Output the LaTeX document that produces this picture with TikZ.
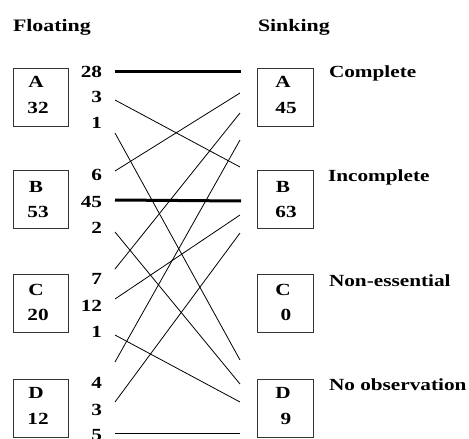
\documentclass[tikz,border=0pt]{standalone}
\usepackage{fontspec}
\setmainfont[FakeStretch=1.25]{Liberation Serif}
\begin{document}
\begin{tikzpicture}[x=1pt,y=-1pt,
  every node/.style={inner sep=0pt,outer sep=0pt,font=\fontsize{17}{20}\selectfont\bfseries},
  head/.style={anchor=base west,font=\fontsize{17.5}{21}\selectfont\bfseries},
  lbl/.style={anchor=base west},
  num/.style={anchor=base east},
  inb/.style={anchor=base},
  box/.style={draw=black!80,line width=0.9pt,minimum height=58pt},
  lbox/.style={box,minimum width=55pt},
  rbox/.style={box,minimum width=56pt},
  thin/.style={line width=0.8pt},
  thick/.style={line width=3pt}]
\useasboundingbox (0,0) rectangle (469,439);
% headings
\node[head] (fl) at (13,31) {Floating};
\node[head] (sk) at (258,31) {Sinking};
% left boxes
\node[lbox] (LA) at (40.5,97) {};
\node[lbox] (LB) at (40.5,199) {};
\node[lbox] (LC) at (40.5,303) {};
\node[lbox] (LD) at (40.5,408.5) {};
\node[inb] (la1) at (36,87) {A};   \node[inb] (la2) at (38,113) {32};
\node[inb] (lb1) at (36,192) {B};  \node[inb] (lb2) at (38,217) {53};
\node[inb] (lc1) at (36,295) {C};  \node[inb] (lc2) at (38,320) {20};
\node[inb] (ld1) at (36,398) {D};  \node[inb] (ld2) at (38,424) {12};
% right boxes
\node[rbox] (RA) at (285,97) {};
\node[rbox] (RB) at (285,199) {};
\node[rbox] (RC) at (285,303) {};
\node[rbox] (RD) at (285,408.5) {};
\node[inb] (ra1) at (283,87) {A};   \node[inb] (ra2) at (286,113) {45};
\node[inb] (rb1) at (283,192) {B};  \node[inb] (rb2) at (286,217) {63};
\node[inb] (rc1) at (283,295) {C};  \node[inb] (rc2) at (286,320) {0};
\node[inb] (rd1) at (283,398) {D};  \node[inb] (rd2) at (286,424) {9};
% category labels
\node[lbl] (c1) at (329,77) {Complete};
\node[lbl] (c2) at (328,181) {Incomplete};
\node[lbl] (c3) at (329,286) {Non-essential};
\node[lbl] (c4) at (329,390) {No observation};
% counts
\node[num] (n1) at (102,77) {28};
\node[num] (n2) at (102,102) {3};
\node[num] (n3) at (102,128) {1};
\node[num] (n4) at (102,180) {6};
\node[num] (n5) at (102,207) {45};
\node[num] (n6) at (102,233) {2};
\node[num] (n7) at (102,284) {7};
\node[num] (n8) at (102,311) {12};
\node[num] (n9) at (102,337) {1};
\node[num] (n10) at (102,388) {4};
\node[num] (n11) at (102,415) {3};
\node[num] (n12) at (102,440) {5};
% line end points
\coordinate (s1) at (115,71);
\coordinate (s2) at (115,100);
\coordinate (s3) at (115,133);
\coordinate (s4) at (115,171);
\coordinate (s5) at (115,200);
\coordinate (s6) at (115,232);
\coordinate (s7) at (115,269);
\coordinate (s8) at (115,299);
\coordinate (s9) at (115,335);
\coordinate (s10) at (115,362);
\coordinate (s11) at (115,402);
\coordinate (s12) at (115,433);
\coordinate (e1) at (241,71);
\coordinate (e2) at (240,93);
\coordinate (e3) at (240,113);
\coordinate (e4) at (240,140);
\coordinate (e5) at (240,167);
\coordinate (e6) at (241,201);
\coordinate (e7) at (240,215);
\coordinate (e8) at (240,233);
\coordinate (e9) at (240,360);
\coordinate (e10) at (240,384);
\coordinate (e11) at (240,402);
\coordinate (e12) at (240,433);
% connectors
\draw[thick] (s1) -- (e1);
\draw[thick] (s5) -- (e6);
\draw[thin] (s2) -- (e5);
\draw[thin] (s3) -- (e9);
\draw[thin] (s4) -- (e2);
\draw[thin] (s6) -- (e10);
\draw[thin] (s7) -- (e3);
\draw[thin] (s8) -- (e7);
\draw[thin] (s9) -- (e11);
\draw[thin] (s10) -- (e4);
\draw[thin] (s11) -- (e8);
\draw[thin] (s12) -- (e12);
\end{tikzpicture}
\end{document}
